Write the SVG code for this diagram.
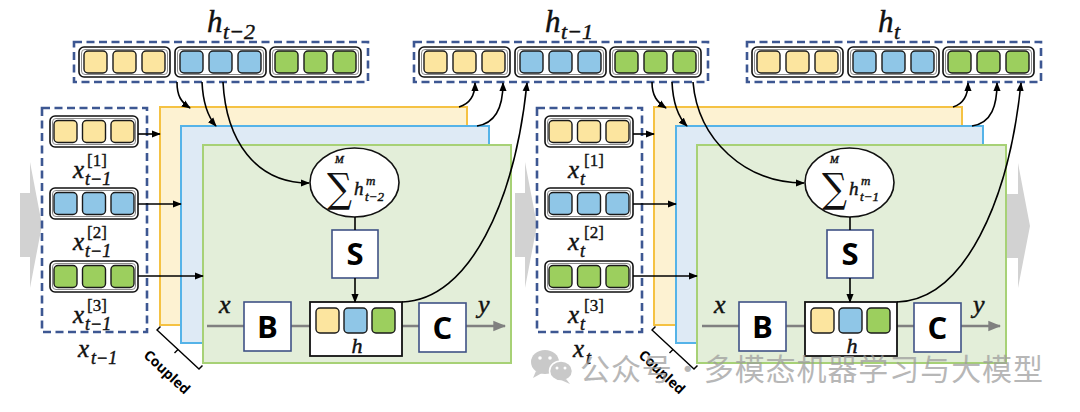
<svg xmlns="http://www.w3.org/2000/svg" xmlns:xlink="http://www.w3.org/1999/xlink" width="1080" height="412" viewBox="0 0 1080 412">
<style>
.dash{fill:#fff;stroke:#3d5792;stroke-width:2.6;stroke-dasharray:8 4.5}
.boxY{fill:#fdf2d2;stroke:#f5c243;stroke-width:2}
.boxB{fill:#deeaf5;stroke:#55b3e8;stroke-width:2}
.boxG{fill:#e3eed9;stroke:#a7d176;stroke-width:2}
.op{fill:#fff;stroke:#3f5285;stroke-width:1.6}
.hb{fill:#fff;stroke:#111;stroke-width:1.8}
.math{font-family:"Liberation Serif","DejaVu Serif",serif;font-style:italic;fill:#111;stroke:#111;stroke-width:0.45}
.up{font-family:"Liberation Serif","DejaVu Serif",serif;fill:#111;stroke:#111;stroke-width:0.35}
.sig{font-family:"DejaVu Serif",serif;fill:#111}
.bold{font-family:"Open Sans","Liberation Sans",sans-serif;font-weight:700;fill:#000;text-anchor:middle}
.cpl{font-family:"Open Sans","Liberation Sans",sans-serif;font-weight:700;font-size:14px;text-anchor:middle;fill:#000}
.con{fill:none;stroke:#000;stroke-width:1.6}
.gl{fill:none;stroke:#808080;stroke-width:2.6}
.garrow{fill:#d2d2d2}
</style>
<defs>
<marker id="ah" viewBox="0 0 10 10" refX="9" refY="5" markerWidth="9" markerHeight="9" markerUnits="userSpaceOnUse" orient="auto"><path d="M0,1 L10,5 L0,9 z" fill="#000"/></marker>
<marker id="gh" viewBox="0 0 10 10" refX="9" refY="5" markerWidth="13" markerHeight="13" markerUnits="userSpaceOnUse" orient="auto"><path d="M0,1 L10,5 L0,9 z" fill="#808080"/></marker>
<g id="tframe"><rect x="0" y="0" width="91" height="30" rx="5" fill="#fff" stroke="#111" stroke-width="1.6"/><rect x="2.5" y="2.5" width="86" height="25" rx="3.5" fill="none" stroke="#8a8a8a" stroke-width="1"/></g>
<g id="tcells" stroke="#1a1a1a" stroke-width="1.4"><rect x="5" y="4" width="23" height="22" rx="4"/><rect x="34" y="4" width="23" height="22" rx="4"/><rect x="63" y="4" width="23" height="22" rx="4"/></g>
<g id="iframe"><rect x="0" y="0" width="88" height="31" rx="5" fill="#fff" stroke="#111" stroke-width="1.6"/><rect x="2.5" y="2.5" width="83" height="26" rx="3.5" fill="none" stroke="#8a8a8a" stroke-width="1"/></g>
<g id="icells" stroke="#1a1a1a" stroke-width="1.4"><rect x="4" y="4.5" width="23" height="22" rx="4"/><rect x="32.5" y="4.5" width="23" height="22" rx="4"/><rect x="61" y="4.5" width="23" height="22" rx="4"/></g>
<g id="hcells" stroke="#1a1a1a" stroke-width="1.4"><rect x="6" y="6" width="23" height="25" rx="4" fill="#fce59f"/><rect x="34" y="6" width="23" height="25" rx="4" fill="#8fc6e7"/><rect x="62" y="6" width="23" height="25" rx="4" fill="#9ccf5e"/></g>
</defs>
<rect x="0" y="0" width="1080" height="412" fill="#fff"/>

<g id="bg-arrows">
<path class="garrow" d="M20,193 H30 V162 L42,225 L30,288 V257 H20 Z"/>
<path class="garrow" d="M515,193 H525 V162 L537,225 L525,288 V257 H515 Z"/>
<path class="garrow" d="M1006,194 H1018 V163 L1030,226 L1018,288 V258 H1006 Z"/>
</g>

<g id="h_t-2">
<rect class="dash" x="74" y="42" width="294" height="40"/>
<g transform="translate(79,47)"><use xlink:href="#tframe"/><use xlink:href="#tcells" fill="#fce59f"/></g>
<g transform="translate(175,47)"><use xlink:href="#tframe"/><use xlink:href="#tcells" fill="#8fc6e7"/></g>
<g transform="translate(270,47)"><use xlink:href="#tframe"/><use xlink:href="#tcells" fill="#9ccf5e"/></g>
<text class="math" x="207" y="32" font-size="31">h</text><text class="math" x="223" y="39" font-size="22">t−2</text>
</g>
<g id="h_t-1">
<rect class="dash" x="414" y="42" width="294" height="40"/>
<g transform="translate(419,47)"><use xlink:href="#tframe"/><use xlink:href="#tcells" fill="#fce59f"/></g>
<g transform="translate(515,47)"><use xlink:href="#tframe"/><use xlink:href="#tcells" fill="#8fc6e7"/></g>
<g transform="translate(610,47)"><use xlink:href="#tframe"/><use xlink:href="#tcells" fill="#9ccf5e"/></g>
<text class="math" x="545" y="32" font-size="31">h</text><text class="math" x="561" y="39" font-size="22">t−1</text>
</g>
<g id="h_t">
<rect class="dash" x="747" y="42" width="294" height="40"/>
<g transform="translate(752,47)"><use xlink:href="#tframe"/><use xlink:href="#tcells" fill="#fce59f"/></g>
<g transform="translate(848,47)"><use xlink:href="#tframe"/><use xlink:href="#tcells" fill="#8fc6e7"/></g>
<g transform="translate(943,47)"><use xlink:href="#tframe"/><use xlink:href="#tcells" fill="#9ccf5e"/></g>
<text class="math" x="878" y="32" font-size="31">h</text><text class="math" x="894" y="39" font-size="22">t</text>
</g>

<g id="block1-layers">
<rect class="boxY" x="160" y="107" width="307" height="218"/>
<rect class="boxB" x="181" y="126" width="308" height="217"/>
<rect class="boxG" x="203" y="145" width="308" height="218"/>
</g>
<g id="block2-layers">
<rect class="boxY" x="654" y="107" width="308" height="218"/>
<rect class="boxB" x="676" y="126" width="307" height="217"/>
<rect class="boxG" x="697" y="145" width="309" height="218"/>
</g>

<g id="x_t-1">
<rect class="dash" x="42" y="108" width="105" height="224"/>
<g transform="translate(50,116)"><use xlink:href="#iframe"/><use xlink:href="#icells" fill="#fce59f"/></g>
<g transform="translate(50,188)"><use xlink:href="#iframe"/><use xlink:href="#icells" fill="#8fc6e7"/></g>
<g transform="translate(50,261)"><use xlink:href="#iframe"/><use xlink:href="#icells" fill="#9ccf5e"/></g>
<text class="math" x="73" y="178" font-size="25">x</text><text class="up" x="87" y="166" font-size="17">[1]</text><text class="math" x="85" y="185" font-size="18">t−1</text>
<text class="math" x="73" y="250" font-size="25">x</text><text class="up" x="87" y="238" font-size="17">[2]</text><text class="math" x="85" y="257" font-size="18">t−1</text>
<text class="math" x="73" y="323" font-size="25">x</text><text class="up" x="87" y="311" font-size="17">[3]</text><text class="math" x="85" y="330" font-size="18">t−1</text>
<text class="math" x="78" y="357" font-size="25">x</text><text class="math" x="91" y="364" font-size="18">t−1</text>
</g>
<g id="x_t">
<rect class="dash" x="537" y="108" width="105" height="224"/>
<g transform="translate(545,116)"><use xlink:href="#iframe"/><use xlink:href="#icells" fill="#fce59f"/></g>
<g transform="translate(545,188)"><use xlink:href="#iframe"/><use xlink:href="#icells" fill="#8fc6e7"/></g>
<g transform="translate(545,261)"><use xlink:href="#iframe"/><use xlink:href="#icells" fill="#9ccf5e"/></g>
<text class="math" x="568" y="178" font-size="25">x</text><text class="up" x="584" y="166" font-size="17">[1]</text><text class="math" x="580" y="185" font-size="18">t</text>
<text class="math" x="568" y="250" font-size="25">x</text><text class="up" x="584" y="238" font-size="17">[2]</text><text class="math" x="580" y="257" font-size="18">t</text>
<text class="math" x="568" y="323" font-size="25">x</text><text class="up" x="584" y="311" font-size="17">[3]</text><text class="math" x="580" y="330" font-size="18">t</text>
<text class="math" x="573" y="357" font-size="25">x</text><text class="math" x="586" y="364" font-size="18">t</text>
</g>

<g id="ssm1">
<path class="gl" d="M207,326 H505" marker-end="url(#gh)"/>
<text class="math" x="219" y="313" font-size="26">x</text>
<text class="math" x="478" y="313" font-size="26">y</text>
<g id="B1"><rect class="op" x="244" y="302" width="47" height="49"/><text class="bold" x="267.5" y="338" font-size="31">B</text></g>
<g id="h1"><rect class="hb" x="310" y="302" width="92" height="54"/><use xlink:href="#hcells" x="310" y="302"/><text class="math" x="357" y="353" font-size="22" text-anchor="middle">h</text></g>
<g id="C1"><rect class="op" x="419" y="303" width="47" height="49"/><text class="bold" x="442.5" y="339" font-size="31">C</text></g>
<g id="S1"><rect class="op" x="332" y="230" width="46" height="48"/><text class="bold" x="355" y="265" font-size="31">S</text></g>
<g id="sum1"><ellipse cx="354.5" cy="182.5" rx="44.5" ry="34.5" fill="#fff" stroke="#111" stroke-width="1.6"/>
<text class="sig" x="327" y="202" font-size="40" textLength="25" lengthAdjust="spacingAndGlyphs">∑</text><text class="math" x="335" y="163" font-size="10.5">M</text>
<text class="math" x="354" y="195" font-size="19">h</text><text class="math" x="366" y="185" font-size="13">m</text><text class="math" x="365" y="201" font-size="13">t−2</text></g>
</g>
<g id="ssm2">
<path class="gl" d="M702,326 H1000" marker-end="url(#gh)"/>
<text class="math" x="714" y="313" font-size="26">x</text>
<text class="math" x="973" y="313" font-size="26">y</text>
<g id="B2"><rect class="op" x="739" y="302" width="47" height="49"/><text class="bold" x="762.5" y="338" font-size="31">B</text></g>
<g id="h2"><rect class="hb" x="805" y="302" width="92" height="54"/><use xlink:href="#hcells" x="805" y="302"/><text class="math" x="852" y="353" font-size="22" text-anchor="middle">h</text></g>
<g id="C2"><rect class="op" x="914" y="303" width="47" height="49"/><text class="bold" x="937.5" y="339" font-size="31">C</text></g>
<g id="S2"><rect class="op" x="827" y="230" width="46" height="48"/><text class="bold" x="850" y="265" font-size="31">S</text></g>
<g id="sum2"><ellipse cx="849.5" cy="182.5" rx="44.5" ry="34.5" fill="#fff" stroke="#111" stroke-width="1.6"/>
<text class="sig" x="822" y="202" font-size="40" textLength="25" lengthAdjust="spacingAndGlyphs">∑</text><text class="math" x="830" y="163" font-size="10.5">M</text>
<text class="math" x="849" y="195" font-size="19">h</text><text class="math" x="861" y="185" font-size="13">m</text><text class="math" x="860" y="201" font-size="13">t−1</text></g>
</g>

<g id="connectors">
<path class="con" d="M138,134 H160" marker-end="url(#ah)"/>
<path class="con" d="M138,204 H181" marker-end="url(#ah)"/>
<path class="con" d="M138,276 H203" marker-end="url(#ah)"/>
<path class="con" d="M177,82 C177,96 181,102 190,108" marker-end="url(#ah)"/>
<path class="con" d="M202,82 C203,104 208,117 216,126" marker-end="url(#ah)"/>
<path class="con" d="M223,82 C226,140 255,183 309,183" marker-end="url(#ah)"/>
<path class="con" d="M355,217 V230"/>
<path class="con" d="M355,278 V302" marker-end="url(#ah)"/>
<path class="con" d="M459,107 C469,104 475,96 475,83" marker-end="url(#ah)"/>
<path class="con" d="M477,126 C497,123 503,105 503,83" marker-end="url(#ah)"/>
<path class="con" d="M402,302 C470,300 515,200 527,83" marker-end="url(#ah)"/>
<path class="con" d="M633,134 H654" marker-end="url(#ah)"/>
<path class="con" d="M633,204 H676" marker-end="url(#ah)"/>
<path class="con" d="M633,276 H697" marker-end="url(#ah)"/>
<path class="con" d="M652,82 C652,96 657,102 666,108" marker-end="url(#ah)"/>
<path class="con" d="M672,82 C673,104 678,117 687,126" marker-end="url(#ah)"/>
<path class="con" d="M693,82 C698,140 745,183 804,183" marker-end="url(#ah)"/>
<path class="con" d="M850,217 V230"/>
<path class="con" d="M850,278 V302" marker-end="url(#ah)"/>
<path class="con" d="M953,107 C963,104 968,96 968,83" marker-end="url(#ah)"/>
<path class="con" d="M972,126 C992,123 997,105 997,83" marker-end="url(#ah)"/>
<path class="con" d="M897,302 C965,300 1009,200 1021,83" marker-end="url(#ah)"/>
</g>

<g id="coupled1">
<path d="M160.5,326.4 L157,330 L199,369 L202.5,365.4 M178,349.5 L174.5,353" fill="none" stroke="#000" stroke-width="1.4"/>
<text class="cpl" transform="translate(167,372) rotate(43)" dy="5">Coupled</text>
</g>
<g id="coupled2">
<path d="M655.5,326.4 L652,330 L694,369 L697.5,365.4 M673,349.5 L669.5,353" fill="none" stroke="#000" stroke-width="1.4"/>
<text class="cpl" transform="translate(662,372) rotate(43)" dy="5">Coupled</text>
</g>

<g id="watermark" opacity="0.72">
<ellipse cx="545" cy="362" rx="14" ry="12" fill="#b5b5b5"/>
<path d="M536,371 L533,378 L542,373 Z" fill="#b5b5b5"/>
<ellipse cx="561" cy="371" rx="11.5" ry="10" fill="#b5b5b5" stroke="#fff" stroke-width="1.5"/>
<path d="M566,379 L570,384 L561,380 Z" fill="#b5b5b5"/>
<circle cx="540" cy="358" r="1.8" fill="#fff"/><circle cx="550" cy="358" r="1.8" fill="#fff"/>
<circle cx="557" cy="368" r="1.5" fill="#fff"/><circle cx="565" cy="368" r="1.5" fill="#fff"/>
<text x="580" y="380" font-family="'Noto Sans CJK SC',sans-serif" font-size="30" fill="#9c9c9c" textLength="463" lengthAdjust="spacing">公众号·多模态机器学习与大模型</text>
</g>
</svg>
